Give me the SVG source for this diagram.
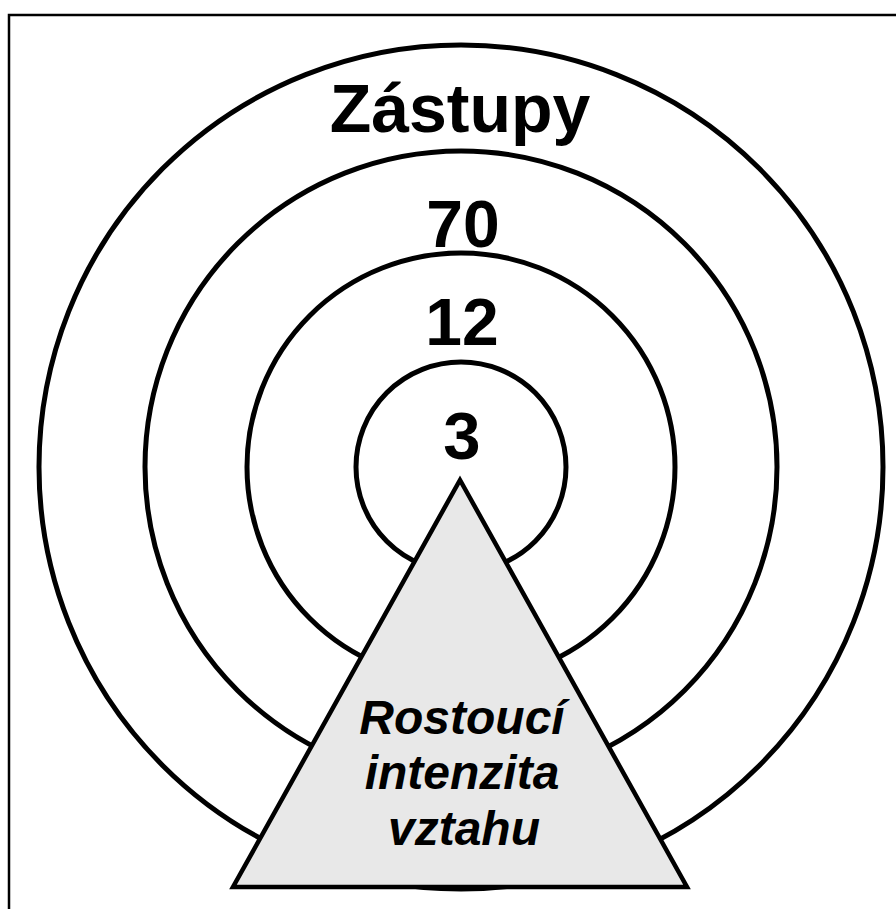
<svg xmlns="http://www.w3.org/2000/svg" width="896" height="909" viewBox="0 0 896 909">
<style>
.ring{fill:none;stroke:#000;stroke-width:5}
.num{font-family:"Liberation Sans",Arial,sans-serif;font-weight:bold;fill:#000;text-anchor:middle}
.lbl{font-family:"Liberation Sans",Arial,sans-serif;font-weight:bold;font-style:italic;font-size:48px;fill:#000;text-anchor:middle}
</style>
<rect x="0" y="0" width="896" height="909" fill="#fff"/>
<path d="M9,909 V15 H896" fill="none" stroke="#000" stroke-width="2.5"/>
<g id="ring-outer"><circle class="ring" cx="461" cy="467" r="422"/></g>
<g id="ring-70"><circle class="ring" cx="461" cy="467" r="316"/></g>
<g id="ring-12"><circle class="ring" cx="461" cy="467" r="214"/></g>
<g id="ring-3"><circle class="ring" cx="461" cy="467" r="105"/></g>
<g id="labels">
<text class="num" x="460" y="132" font-size="68">Zástupy</text>
<text class="num" x="463" y="247" font-size="66">70</text>
<text class="num" x="462" y="345" font-size="66">12</text>
<text class="num" x="462" y="459" font-size="67">3</text>
</g>
<g id="triangle">
<polygon points="460,480 233,887 687,887" fill="#e8e8e8" stroke="#000" stroke-width="4.5" stroke-linejoin="miter"/>
<text class="lbl" x="462" y="734">Rostoucí</text>
<text class="lbl" x="462" y="789">intenzita</text>
<text class="lbl" x="464" y="845">vztahu</text>
</g>
</svg>
